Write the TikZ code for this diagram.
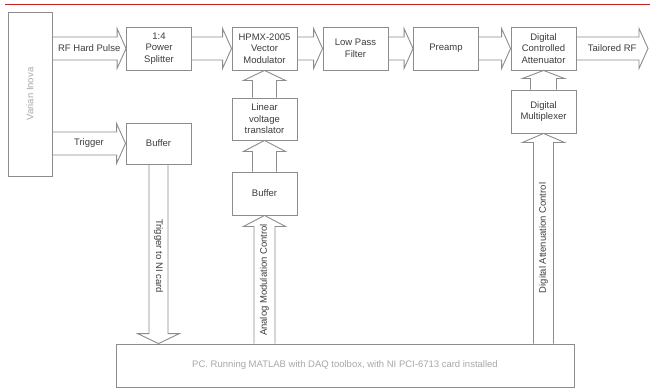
\documentclass[tikz,border=0pt]{standalone}
\usepackage{fontspec}
\setmainfont{Liberation Sans}
\usetikzlibrary{calc}
\definecolor{linegray}{HTML}{8C8C8C}
\definecolor{txtgray}{HTML}{3C3C3C}
\definecolor{lighttxt}{HTML}{A8A8A8}
\definecolor{redline}{HTML}{C8201E}
% horizontal block arrow: #1 start (on box edge), #2 tip
\newcommand{\blkH}[2]{\draw[arr] ($(#1)+(0,-11.5)$) -- ($(#2)+(-9,-11.5)$) -- ($(#2)+(-9,-20)$) -- (#2) -- ($(#2)+(-9,20)$) -- ($(#2)+(-9,11.5)$) -- ($(#1)+(0,11.5)$);}
% vertical block arrow: #1 start, #2 tip, #3 half shaft width, #4 signed head length
\newcommand{\blkV}[4]{\draw[arr] ($(#1)+(-#3,0)$) -- ($(#2)+(-#3,#4)$) -- ($(#2)+(-21,#4)$) -- (#2) -- ($(#2)+(21,#4)$) -- ($(#2)+(#3,#4)$) -- ($(#1)+(#3,0)$);}
\begin{document}
\begin{tikzpicture}[x=1pt,y=-1pt,
  box/.style={draw=linegray, line width=0.9pt, fill=white, minimum width=65pt, minimum height=43pt, inner sep=0pt, align=center, text=txtgray, font=\fontsize{9.5}{11.5}\selectfont},
  arr/.style={draw=linegray, line width=0.9pt, line join=miter},
  lbl/.style={text=txtgray, font=\fontsize{9.5}{11.5}\selectfont, inner sep=0pt},
  lightlbl/.style={text=lighttxt, font=\fontsize{9.5}{11.5}\selectfont, inner sep=0pt}]
\useasboundingbox (0,0) rectangle (650,389);
\draw[redline, line width=1.8pt] (5,4.5) -- (650,4.5);

% boxes
\node[box, minimum width=44pt, minimum height=164pt] (varian) at (30,94) {};
\node[lightlbl, rotate=90] (varianlbl) at (varian.center) {Varian Inova};
\node[box] (split) at (159,48.5) {1:4\\Power\\Splitter};
\node[box] (hpmx) at (264.5,48.5) {HPMX-2005\\Vector\\Modulator};
\node[box] (lpf) at (355.5,48.5) {Low Pass\\Filter};
\node[box] (preamp) at (446,48.5) {Preamp};
\node[box] (att) at (543.5,48.5) {Digital\\Controlled\\Attenuator};
\node[box, minimum height=41pt] (buf1) at (158.5,143.5) {Buffer};
\node[box, minimum height=42pt] (trans) at (264.5,119) {Linear\\voltage\\translator};
\node[box] (buf2) at (264.5,193.5) {Buffer};
\node[box] (mux) at (543.5,111.5) {Digital\\Multiplexer};
\node[box, minimum width=458pt, minimum height=43pt, text=lighttxt] (pc) at (345,365.5) {PC. Running MATLAB with DAQ toolbox, with NI PCI-6713 card installed};

% connector end points
\coordinate (rfS) at (varian.east |- split.west);
\coordinate (trS) at (varian.east |- buf1.west);
\coordinate (outT) at (648,48.5);
\coordinate (ncT) at (pc.north -| buf1.south);
\coordinate (amS) at (pc.north -| buf2.south);
\coordinate (daS) at (pc.north -| mux.south);

% horizontal arrows
\blkH{rfS}{split.west}
\blkH{split.east}{hpmx.west}
\blkH{hpmx.east}{lpf.west}
\blkH{lpf.east}{preamp.west}
\blkH{preamp.east}{att.west}
\blkH{att.east}{outT}
\blkH{trS}{buf1.west}

% vertical arrows
\blkV{trans.north}{hpmx.south}{12}{10}
\blkV{buf2.north}{trans.south}{12}{11}
\blkV{amS}{buf2.south}{10.5}{11}
\blkV{mux.north}{att.south}{13}{8}
\blkV{daS}{mux.south}{10}{9}
\blkV{buf1.south}{ncT}{9.5}{-10}

% arrow labels
\node[lbl] (lrf) at ($(rfS)!0.5!(split.west)$) {RF Hard Pulse};
\node[lbl] (ltr) at ($(trS)!0.5!(buf1.west)$) {Trigger};
\node[lbl] (lout) at ($(att.east)!0.5!(outT)$) {Tailored RF};
\node[lbl, rotate=-90] (lnc) at (158.5,256) {Trigger to NI card};
\node[lbl, rotate=90] (lam) at (264.5,280) {Analog Modulation Control};
\node[lbl, rotate=90] (lda) at (543.5,238) {Digital Attenuation Control};
\end{tikzpicture}
\end{document}
